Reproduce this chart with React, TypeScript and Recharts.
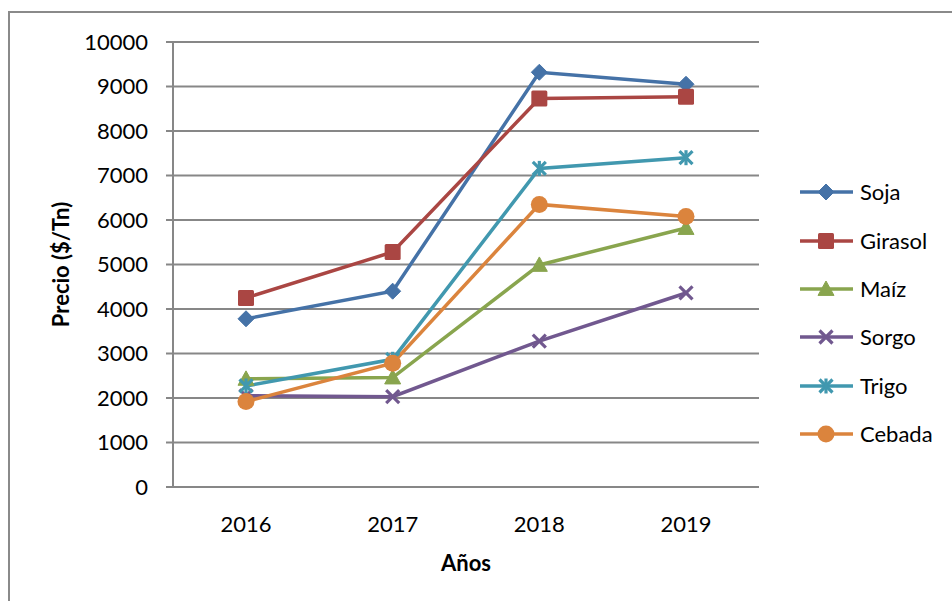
import React from 'react';
import { LineChart, Line, XAxis, YAxis, CartesianGrid, Legend } from 'recharts';

const years = ['2016', '2017', '2018', '2019'];
const soja = [3780, 4400, 9320, 9050];
const girasol = [4250, 5280, 8730, 8770];
const maiz = [2430, 2460, 4990, 5820];
const sorgo = [2050, 2030, 3280, 4360];
const trigo = [2270, 2870, 7160, 7400];
const cebada = [1920, 2780, 6350, 6080];
const seriesNames = ['Soja', 'Girasol', 'Maíz', 'Sorgo', 'Trigo', 'Cebada'];
const yTicks = [0, 1000, 2000, 3000, 4000, 5000, 6000, 7000, 8000, 9000, 10000];
const yTitle = 'Precio ($/Tn)';
const xTitle = 'Años';

const seriesValues = [soja, girasol, maiz, sorgo, trigo, cebada];
const data = years.map((y, i) => {
  const row: any = { year: y };
  seriesNames.forEach((n, k) => {
    row[n] = seriesValues[k][i];
  });
  return row;
});

const COLORS = ['#4572A7', '#AA4643', '#89A54E', '#71588F', '#4198AF', '#DB843D'];
const SHAPES = ['diamond', 'square', 'triangle', 'x', 'star', 'circle'];
const FONT = 'Lato, "Open Sans", sans-serif';
const GRID = '#878787';

function Marker({ shape, cx, cy, color }: any) {
  if (cx == null || cy == null) return null;
  switch (shape) {
    case 'diamond': {
      const r = 8;
      return (
        <polygon
          points={`${cx},${cy - r} ${cx + r},${cy} ${cx},${cy + r} ${cx - r},${cy}`}
          fill={color}
          stroke={color}
          strokeWidth={1}
          strokeLinejoin="round"
        />
      );
    }
    case 'square': {
      const h = 8;
      return <rect x={cx - h} y={cy - h} width={2 * h} height={2 * h} rx={1.5} fill={color} />;
    }
    case 'triangle': {
      const h = 8;
      return (
        <polygon
          points={`${cx},${cy - h} ${cx + h},${cy + h * 0.8} ${cx - h},${cy + h * 0.8}`}
          fill={color}
          stroke={color}
          strokeLinejoin="round"
        />
      );
    }
    case 'x': {
      const h = 6.5;
      return (
        <g stroke={color} strokeWidth={3.2}>
          <line x1={cx - h} y1={cy - h} x2={cx + h} y2={cy + h} />
          <line x1={cx - h} y1={cy + h} x2={cx + h} y2={cy - h} />
        </g>
      );
    }
    case 'star': {
      const h = 6.5;
      return (
        <g stroke={color} strokeWidth={3.2}>
          <line x1={cx - h} y1={cy - h} x2={cx + h} y2={cy + h} />
          <line x1={cx - h} y1={cy + h} x2={cx + h} y2={cy - h} />
          <line x1={cx} y1={cy - h - 1} x2={cx} y2={cy + h + 1} />
        </g>
      );
    }
    case 'circle':
    default:
      return <circle cx={cx} cy={cy} r={8.5} fill={color} />;
  }
}

function renderLegend(props: any) {
  const payload = [...(props.payload || [])].sort(
    (a: any, b: any) => seriesNames.indexOf(a.value) - seriesNames.indexOf(b.value)
  );
  return (
    <div style={{ fontFamily: FONT }}>
      {payload.map((entry: any, i: number) => {
        const idx = seriesNames.indexOf(entry.value);
        return (
          <div key={i} style={{ height: 48.4, display: 'flex', alignItems: 'center' }}>
            <svg width={60} height={24} style={{ display: 'block' }}>
              <line x1={5} y1={12} x2={58} y2={12} stroke={COLORS[idx]} strokeWidth={3.5} />
              <Marker shape={SHAPES[idx]} cx={31} cy={12} color={COLORS[idx]} />
            </svg>
            <span style={{ fontSize: 22, color: '#000', marginLeft: 5, lineHeight: 1 }}>{entry.value}</span>
          </div>
        );
      })}
    </div>
  );
}

export default function App() {
  return (
    <div
      style={{
        position: 'absolute',
        left: 0,
        top: 0,
        width: 952,
        height: 601,
        overflow: 'hidden',
        background: '#fff',
        fontFamily: FONT,
      }}
    >
      <div
        style={{
          position: 'absolute',
          left: 8,
          top: 11,
          width: 1000,
          height: 700,
          borderLeft: '2px solid #8a8a8a',
          borderTop: '2px solid #8a8a8a',
        }}
      />
      <div style={{ position: 'absolute', left: 0, top: 0 }}>
        <LineChart
          width={952}
          height={601}
          data={data}
          margin={{ top: 42, right: 193, bottom: 0, left: 0 }}
        >
          <CartesianGrid vertical={false} stroke={GRID} strokeWidth={2} />
          <XAxis
            dataKey="year"
            height={114}
            padding={{ left: 73, right: 73 }}
            axisLine={{ stroke: GRID, strokeWidth: 2 }}
            tickLine={false}
            tickSize={0}
            tickMargin={29}
            tick={{ fill: '#000', fontSize: 22, fontFamily: FONT }}
            label={{
              content: (p: any) => {
                const vb = p.viewBox || { x: 173, y: 487, width: 586, height: 114 };
                return (
                  <text
                    x={vb.x + vb.width / 2}
                    y={vb.y + 84}
                    textAnchor="middle"
                    fontSize={22}
                    fontWeight="bold"
                    fill="#000"
                    fontFamily={FONT}
                  >
                    {xTitle}
                  </text>
                );
              },
            }}
          />
          <YAxis
            width={173}
            domain={[0, 10000]}
            ticks={yTicks}
            interval={0}
            axisLine={{ stroke: GRID, strokeWidth: 2 }}
            tickLine={{ stroke: GRID, strokeWidth: 2 }}
            tickSize={7}
            tickMargin={18}
            tick={{ fill: '#000', fontSize: 22, fontFamily: FONT }}
            label={{
              content: (p: any) => {
                const vb = p.viewBox || { x: 0, y: 42, width: 173, height: 445 };
                const cx = vb.x + 69;
                const cy = vb.y + vb.height / 2;
                return (
                  <text
                    x={cx}
                    y={cy}
                    transform={`rotate(-90, ${cx}, ${cy})`}
                    textAnchor="middle"
                    fontSize={22}
                    fontWeight="bold"
                    fill="#000"
                    fontFamily={FONT}
                  >
                    {yTitle}
                  </text>
                );
              },
            }}
          />
          <Legend
            layout="vertical"
            align="center"
            verticalAlign="middle"
            content={renderLegend}
            wrapperStyle={{ left: 795, top: 168, width: 150, height: 300 }}
          />
          {seriesNames.map((name, i) => (
            <Line
              key={name}
              type="linear"
              dataKey={name}
              name={name}
              stroke={COLORS[i]}
              strokeWidth={3.5}
              isAnimationActive={false}
              activeDot={false}
              dot={(p: any) => (
                <g key={`${name}-${p.index}`}>
                  <Marker shape={SHAPES[i]} cx={p.cx} cy={p.cy} color={COLORS[i]} />
                </g>
              )}
            />
          ))}
        </LineChart>
      </div>
    </div>
  );
}
